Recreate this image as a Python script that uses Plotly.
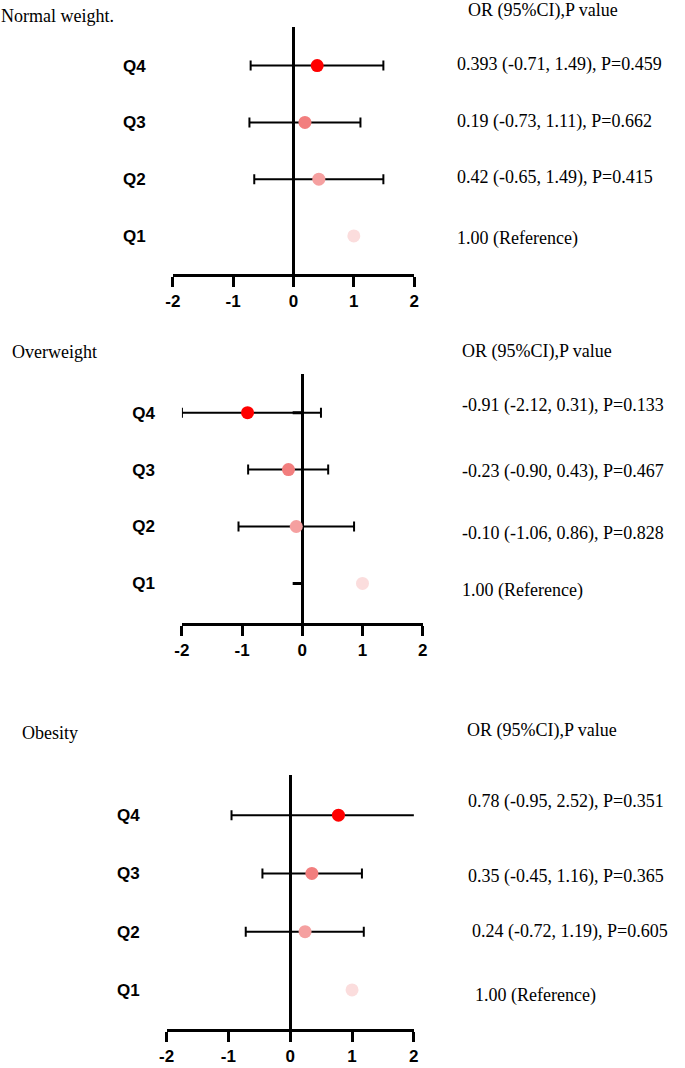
import plotly.graph_objects as go

W, H = 685, 1068

# ---------------- data ----------------
quartiles = ["Q1", "Q2", "Q3", "Q4"]
point_colors = ["#FBDDDD", "#F5A0A0", "#F27E7E", "#FF0000"]
x_ticks = [-2, -1, 0, 1, 2]

normal_or = [1.00, 0.42, 0.19, 0.393]
normal_lo = [None, -0.65, -0.73, -0.71]
normal_hi = [None, 1.49, 1.11, 1.49]
normal_labels = ["1.00 (Reference)", "0.42 (-0.65, 1.49), P=0.415",
                 "0.19 (-0.73, 1.11), P=0.662", "0.393 (-0.71, 1.49), P=0.459"]

over_or = [1.00, -0.10, -0.23, -0.91]
over_lo = [None, -1.06, -0.90, -2.00]   # Q4 bar drawn to the axis end (-2.12 in text)
over_hi = [None, 0.86, 0.43, 0.31]
over_labels = ["1.00 (Reference)", "-0.10 (-1.06, 0.86), P=0.828",
               "-0.23 (-0.90, 0.43), P=0.467", "-0.91 (-2.12, 0.31), P=0.133"]
over_stub_rows = ["Q4", "Q1"]
over_stub_x = [-0.16, 0]

obese_or = [1.00, 0.24, 0.35, 0.78]
obese_lo = [None, -0.72, -0.45, -0.95]
obese_hi = [None, 1.19, 1.16, 2.52]
obese_labels = ["1.00 (Reference)", "0.24 (-0.72, 1.19), P=0.605",
                "0.35 (-0.45, 1.16), P=0.365", "0.78 (-0.95, 2.52), P=0.351"]

titles = ["Normal weight.", "Overweight", "Obesity"]
header = "OR (95%CI),P value"

# ---------------- layout geometry (pixels) ----------------
panels = [
    dict(ors=normal_or, lo=normal_lo, hi=normal_hi, labels=normal_labels,
         xpx=(168, 414), ypx=(27, 274), yrange=(-0.67, 3.68),
         title_xy=(-8, 16), head_xy=(468, 11),
         label_x=[457, 457, 457, 457], label_y=[238, 177, 121, 65]),
    dict(ors=over_or, lo=over_lo, hi=over_hi, labels=over_labels,
         xpx=(177.3, 422.7), ypx=(374, 622.7), yrange=(-0.69, 3.68),
         title_xy=(3, 352), head_xy=(462, 352),
         label_x=[462, 462, 462, 462], label_y=[590, 533, 472, 406]),
    dict(ors=obese_or, lo=obese_lo, hi=obese_hi, labels=obese_labels,
         xpx=(161.7, 413.7), ypx=(775, 1029), yrange=(-0.67, 3.69),
         title_xy=(13, 733), head_xy=(467, 730),
         label_x=[475, 472, 468, 468], label_y=[995, 931, 876, 801]),
]

SERIF = "Liberation Serif, Times New Roman, serif"
SANS = "Liberation Sans, Arial, sans-serif"

fig = go.Figure()
annotations = []
layout = {}

for i, p in enumerate(panels):
    k = "" if i == 0 else str(i + 1)
    xa, ya = "x" + k, "y" + k

    # error bars (only rows with a CI)
    ex, ey, ep, em = [], [], [], []
    for q, o, lo, hi in zip(quartiles, p["ors"], p["lo"], p["hi"]):
        if lo is None:
            continue
        ex.append(o); ey.append(q); ep.append(hi - o); em.append(o - lo)
    fig.add_trace(go.Scatter(
        x=ex, y=ey, mode="markers", xaxis=xa, yaxis=ya,
        marker=dict(size=1, color="rgba(0,0,0,0)"),
        error_x=dict(type="data", symmetric=False, array=ep, arrayminus=em,
                     color="black", thickness=2, width=5),
        showlegend=False, hoverinfo="skip"))

    if i == 1:
        for r in over_stub_rows:
            fig.add_trace(go.Scatter(
                x=over_stub_x, y=[r, r], mode="lines", xaxis=xa, yaxis=ya,
                line=dict(color="black", width=3), showlegend=False,
                hoverinfo="skip"))

    # points
    fig.add_trace(go.Scatter(
        x=p["ors"], y=quartiles, mode="markers", xaxis=xa, yaxis=ya,
        marker=dict(size=13, color=point_colors, line=dict(width=0)),
        showlegend=False))

    x0, x1 = p["xpx"]
    yt, yb = p["ypx"]
    layout["xaxis" + k] = dict(
        domain=[x0 / W, x1 / W], range=[-2, 2], anchor=ya,
        tickvals=x_ticks, ticktext=[str(t) for t in x_ticks],
        ticks="outside", ticklen=10, tickwidth=3, tickcolor="black",
        showline=True, linewidth=3, linecolor="black",
        showgrid=False, zeroline=True, zerolinewidth=3, zerolinecolor="black",
        tickfont=dict(family=SANS, size=17, color="black", weight="bold"),
        fixedrange=True)
    layout["yaxis" + k] = dict(
        domain=[1 - yb / H, 1 - yt / H], range=list(p["yrange"]), anchor=xa,
        type="category", categoryorder="array", categoryarray=quartiles,
        showline=False, showgrid=False, zeroline=False, ticks="",
        ticklabelstandoff=26,
        tickfont=dict(family=SANS, size=17, color="black", weight="bold"),
        fixedrange=True)

    tx, ty = p["title_xy"]
    annotations.append(dict(text=titles[i], x=tx / W, y=1 - ty / H,
                            xref="paper", yref="paper", xanchor="left",
                            yanchor="middle", showarrow=False, borderpad=0,
                            font=dict(family=SERIF, size=18, color="black")))
    hx, hy = p["head_xy"]
    annotations.append(dict(text=header, x=hx / W, y=1 - hy / H,
                            xref="paper", yref="paper", xanchor="left",
                            yanchor="middle", showarrow=False, borderpad=0,
                            font=dict(family=SERIF, size=18, color="black")))
    for lab, lx, ly in zip(p["labels"], p["label_x"], p["label_y"]):
        annotations.append(dict(text=lab, x=lx / W, y=1 - ly / H,
                                xref="paper", yref="paper", xanchor="left",
                                yanchor="middle", showarrow=False, borderpad=0,
                                font=dict(family=SERIF, size=18, color="black")))

fig.update_layout(
    width=W, height=H, margin=dict(l=0, r=0, t=0, b=0),
    paper_bgcolor="white", plot_bgcolor="white",
    showlegend=False, annotations=annotations, **layout)

fig.write_html(
    "out.html",
    config={"displayModeBar": False},
    post_script="document.body.style.margin='0';document.body.style.padding='0';"
                "document.body.style.overflow='hidden';")
